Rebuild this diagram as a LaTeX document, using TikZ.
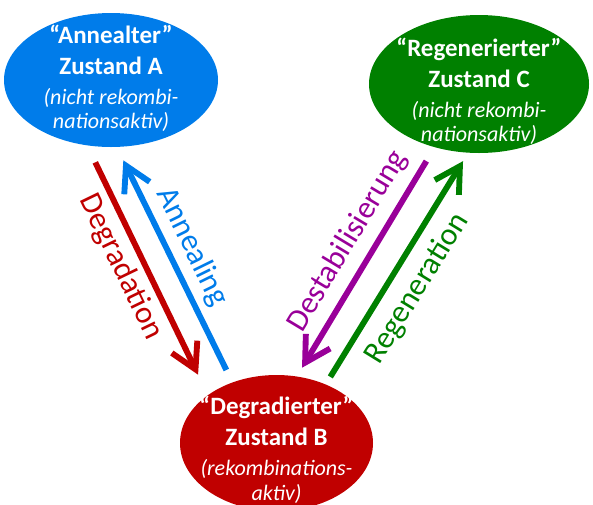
\documentclass[tikz,border=0pt]{standalone}
\usepackage{fontspec}
\setmainfont{Carlito}
\usetikzlibrary{shapes.geometric,arrows.meta}
\definecolor{annblau}{RGB}{0,124,234}
\definecolor{degrot}{RGB}{192,0,0}
\definecolor{reggruen}{RGB}{0,128,0}
\definecolor{destlila}{RGB}{153,0,153}
\newcommand{\zsttext}{\fontsize{21.3}{25}\selectfont\bfseries}
\newcommand{\klammer}{\fontsize{18.8}{25}\selectfont\mdseries\itshape}
\tikzset{
  zustand/.style={ellipse, inner sep=0pt},
  ztext/.style={text=white, align=center, font=\zsttext, inner sep=0pt},
  pfeil/.style={line width=5pt, -{Straight Barb[length=0.75cm,width=0.85cm]}},
  proz/.style={sloped, font=\fontsize{26.9}{30}\selectfont, inner sep=0pt}
}
\begin{document}
\begin{tikzpicture}
  \useasboundingbox (0,0) rectangle (17.79,-15.12);
  \node[zustand, fill=annblau, minimum width=6.42cm, minimum height=4.02cm,
    label={[ztext, yshift=0.05cm]center:{“Annealter”\\[1.8pt]Zustand A\\[0.4pt]\klammer (nicht rekombi-\\[-4pt]\klammer nationsaktiv)}}] (A) at (3.33,-2.40) {};
  \node[zustand, fill=reggruen, minimum width=6.6cm, minimum height=4.14cm,
    label={[ztext, yshift=-0.22cm]center:{“Regenerierter”\\[1.8pt]Zustand C\\[0.4pt]\klammer (nicht rekombi-\\[-4pt]\klammer nationsaktiv)}}] (C) at (14.37,-2.52) {};
  \node[zustand, fill=degrot, minimum width=5.79cm, minimum height=4.08cm,
    label={[ztext, yshift=-0.2cm]center:{“Degradierter”\\[1.8pt]Zustand B\\[0.4pt]\klammer (rekombinations-\\[-4pt]\klammer aktiv)}}] (B) at (8.295,-13.29) {};

  \draw[pfeil, degrot, shorten <=0.56cm, shorten >=0.675cm] (A.-110) --
    node[proz, pos=0.448, yshift=-0.67cm] {Degradation} (B.145);
  \draw[pfeil, annblau, shorten <=0.41cm, shorten >=0.44cm] (B.126) --
    node[proz, pos=0.531, yshift=0.70cm] {Annealing} (A.-85);
  \draw[pfeil, destlila, shorten <=0.48cm, shorten >=0.3cm] (C.-125) --
    node[proz, pos=0.469, yshift=0.78cm] {Destabilisierung} (B.73);
  \draw[pfeil, reggruen, shorten <=0.26cm, shorten >=0.29cm] (B.50) --
    node[proz, pos=0.476, yshift=-0.83cm] {Regeneration} (C.-99);
\end{tikzpicture}
\end{document}
